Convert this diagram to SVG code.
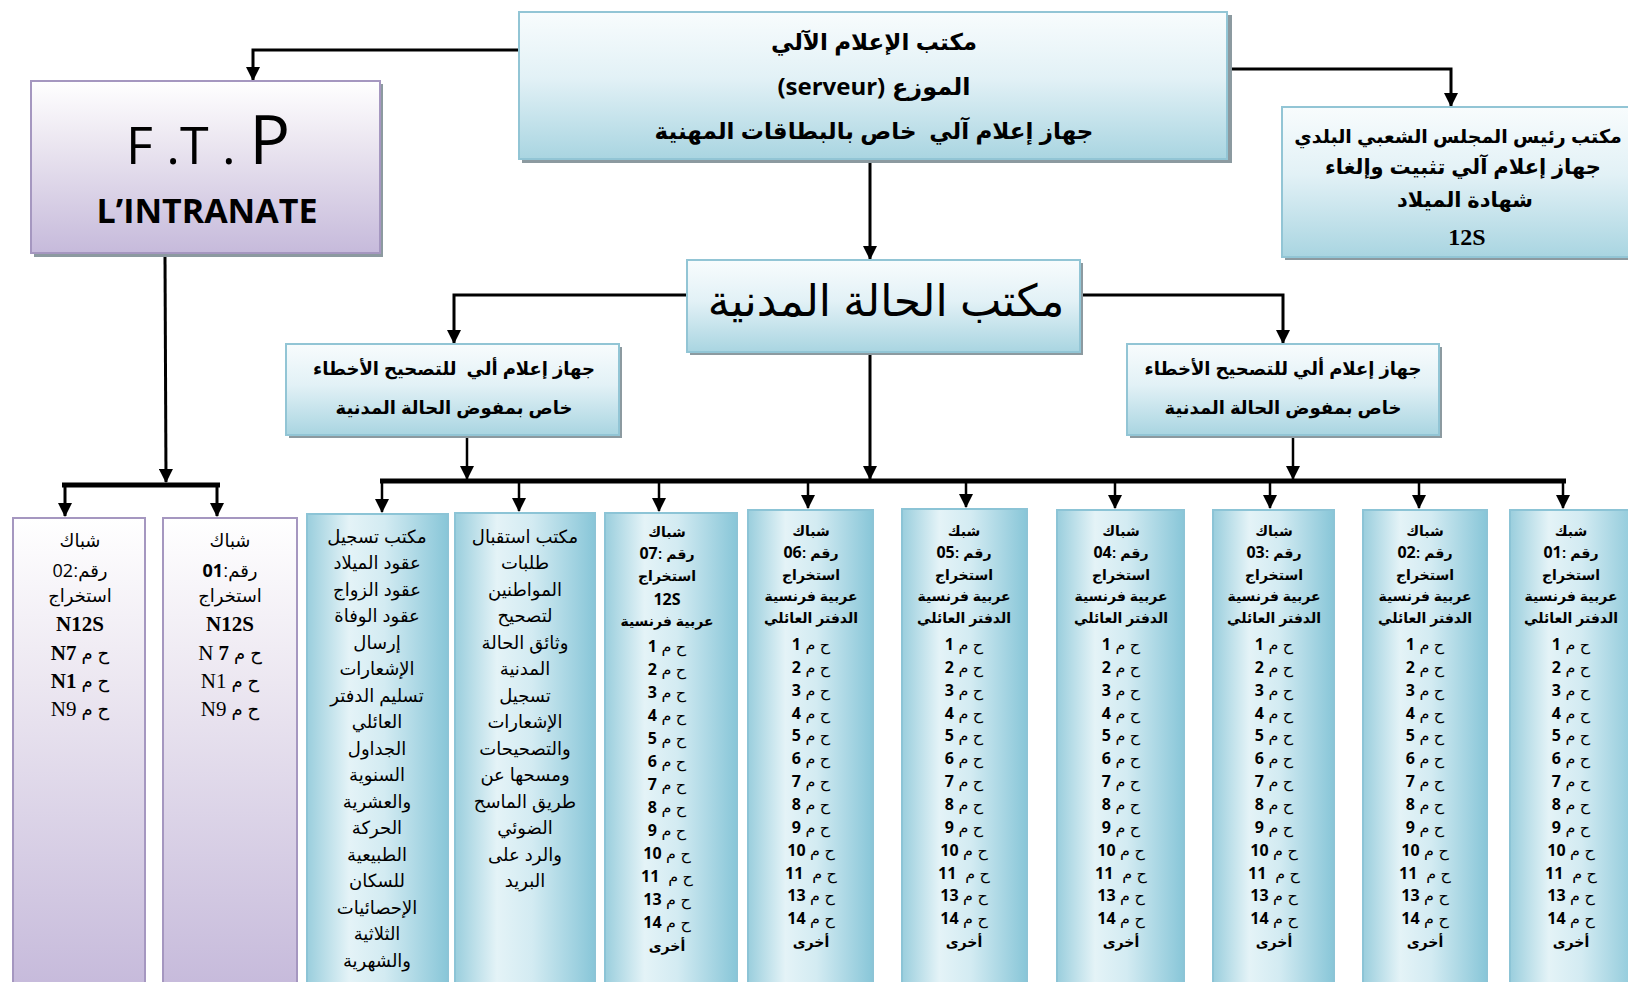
<svg xmlns="http://www.w3.org/2000/svg" width="1628" height="982" viewBox="0 0 1628 982">
<defs>
<linearGradient id="gv" x1="0" y1="0" x2="0" y2="1"><stop offset="0" stop-color="#f8fcfd"/><stop offset="0.45" stop-color="#e2f1f6"/><stop offset="1" stop-color="#a9d5e1"/></linearGradient>
<linearGradient id="gh" x1="0" y1="0" x2="1" y2="0"><stop offset="0" stop-color="#9acedd"/><stop offset="0.3" stop-color="#e4f3f7"/><stop offset="0.55" stop-color="#d3ebf2"/><stop offset="1" stop-color="#88c6d8"/></linearGradient>
<linearGradient id="gp" x1="0" y1="0" x2="0" y2="1"><stop offset="0" stop-color="#ffffff"/><stop offset="0.35" stop-color="#ece7f1"/><stop offset="1" stop-color="#c6badb"/></linearGradient>
<marker id="ah" markerUnits="userSpaceOnUse" markerWidth="14" markerHeight="14" refX="13" refY="7" orient="auto"><path d="M0,0 L14,7 L0,14 z" fill="#000"/></marker>
<style>
.sh{fill:#8c9aa0}
.bb{fill:url(#gv);stroke:#92c5d5;stroke-width:2}
.bh{fill:url(#gh);stroke:#8cc4d6;stroke-width:2}
.bp{fill:url(#gp);stroke:#a597c0;stroke-width:2}
.ar{font-family:"Liberation Sans","DejaVu Sans",sans-serif;fill:#000;text-anchor:middle}
.b{font-weight:bold}
.cal{font-family:"Open Sans","Liberation Sans",sans-serif}
.tms{font-family:"Liberation Serif","DejaVu Serif",serif}
.hd{font-size:14px;font-weight:bold}
.rw{font-size:16px}
.n{font-family:"Open Sans","Liberation Sans",sans-serif;font-weight:bold;font-size:16px}
.tx{font-size:18px}
.fw{font-size:18px}
.ln{stroke:#000;fill:none;stroke-width:3}
.bus{stroke:#000;fill:none;stroke-width:5}
.dr{stroke:#000;fill:none;stroke-width:2.5}
</style>
</defs>

<g id="connectors">
<polyline class="ln" points="518,50 253,50 253,80" marker-end="url(#ah)"/>
<polyline class="ln" points="1230,69 1451,69 1451,106" marker-end="url(#ah)"/>
<line class="ln" x1="870" y1="163" x2="870" y2="259" marker-end="url(#ah)"/>
<polyline class="ln" points="687,295 454,295 454,343" marker-end="url(#ah)"/>
<polyline class="ln" points="1082,295 1283,295 1283,343" marker-end="url(#ah)"/>
<line class="ln" x1="870" y1="355" x2="870" y2="479" marker-end="url(#ah)"/>
<line class="dr" x1="467" y1="438" x2="467" y2="479" marker-end="url(#ah)"/>
<line class="dr" x1="1293" y1="438" x2="1293" y2="479" marker-end="url(#ah)"/>
<line class="bus" x1="380" y1="481" x2="1566" y2="481"/>
<line class="dr" x1="382" y1="481" x2="382" y2="512" marker-end="url(#ah)"/>
<line class="dr" x1="519" y1="481" x2="519" y2="511" marker-end="url(#ah)"/>
<line class="dr" x1="659" y1="481" x2="659" y2="511" marker-end="url(#ah)"/>
<line class="dr" x1="808" y1="481" x2="808" y2="508" marker-end="url(#ah)"/>
<line class="dr" x1="966" y1="481" x2="966" y2="507" marker-end="url(#ah)"/>
<line class="dr" x1="1115" y1="481" x2="1115" y2="508" marker-end="url(#ah)"/>
<line class="dr" x1="1270" y1="481" x2="1270" y2="508" marker-end="url(#ah)"/>
<line class="dr" x1="1419" y1="481" x2="1419" y2="508" marker-end="url(#ah)"/>
<line class="dr" x1="1563" y1="481" x2="1563" y2="508" marker-end="url(#ah)"/>
<line class="ln" x1="165" y1="257" x2="166" y2="482" marker-end="url(#ah)"/>
<line class="bus" x1="62" y1="485" x2="220" y2="485"/>
<line class="ln" x1="65" y1="485" x2="65" y2="516" marker-end="url(#ah)"/>
<line class="ln" x1="217" y1="485" x2="217" y2="516" marker-end="url(#ah)"/>
</g>

<g id="server">
<rect class="sh" x="522" y="15" width="710" height="148"/>
<rect class="bb" x="519" y="12" width="708" height="147"/>
<text class="ar b" x="874" y="50" font-size="23">مكتب الإعلام الآلي</text>
<text class="ar b" x="874" y="95" font-size="24"><tspan class="cal">(serveur)</tspan> الموزع</text>
<text class="ar b" x="874" y="139" font-size="23" xml:space="preserve">جهاز إعلام آلي  خاص بالبطاقات المهنية</text>
</g>

<g id="ftp">
<rect class="sh" x="34" y="84" width="349" height="173"/>
<rect class="bp" x="31" y="81" width="349" height="172"/>
<text class="cal" x="208" y="164" font-size="52" text-anchor="middle">F .T . <tspan font-size="68">P</tspan></text>
<text class="cal b" x="207" y="223" font-size="34" text-anchor="middle">L’INTRANATE</text>
</g>

<g id="apc">
<rect class="sh" x="1285" y="110" width="360" height="150"/>
<rect class="bb" x="1282" y="107" width="360" height="150"/>
<text class="ar b" x="1458" y="143" font-size="19">مكتب رئيس المجلس الشعبي البلدي</text>
<text class="ar b" x="1463" y="174" font-size="21">جهاز إعلام آلي تثبيت وإلغاء</text>
<text class="ar b" x="1465" y="207" font-size="21">شهادة الميلاد</text>
<text class="tms b" x="1467" y="245" font-size="24" text-anchor="middle">12S</text>
</g>

<g id="civil">
<rect class="sh" x="690" y="263" width="393" height="92"/>
<rect class="bb" x="687" y="260" width="393" height="92"/>
<text class="ar" x="886" y="316" font-size="44">مكتب الحالة المدنية</text>
</g>

<g id="corr-left">
<rect class="sh" x="289" y="347" width="333" height="91"/>
<rect class="bb" x="286" y="344" width="333" height="91"/>
<text class="ar b" x="454" y="375" font-size="18" xml:space="preserve">جهاز إعلام ألي  للتصحيح الأخطاء</text>
<text class="ar b" x="454" y="414" font-size="18">خاص بمفوض الحالة المدنية</text>
</g>

<g id="corr-right">
<rect class="sh" x="1130" y="347" width="312" height="91"/>
<rect class="bb" x="1127" y="344" width="312" height="91"/>
<text class="ar b" x="1283" y="375" font-size="18">جهاز إعلام ألي للتصحيح الأخطاء</text>
<text class="ar b" x="1283" y="414" font-size="18">خاص بمفوض الحالة المدنية</text>
</g>

<g id="ftp-w02">
<rect class="bp" x="13" y="518" width="132" height="470"/>
<text class="ar fw" x="80" y="547">شباك</text>
<text class="ar fw" x="80" y="577" direction="rtl">رقم:<tspan class="cal">02</tspan></text>
<text class="ar fw" x="80" y="602">استخراج</text>
<text class="tms b" x="80" y="631" font-size="21" text-anchor="middle">N12S</text>
<text class="ar fw" x="80" y="660" direction="rtl">ح م <tspan class="tms b" font-size="21">N7</tspan></text>
<text class="ar fw" x="80" y="688" direction="rtl">ح م <tspan class="tms b" font-size="21">N1</tspan></text>
<text class="ar fw" x="80" y="716" direction="rtl">ح م <tspan class="tms" font-size="21">N9</tspan></text>
</g>

<g id="ftp-w01">
<rect class="bp" x="163" y="518" width="134" height="470"/>
<text class="ar fw" x="230" y="547">شباك</text>
<text class="ar fw" x="230" y="577" direction="rtl">رقم:<tspan class="cal b">01</tspan></text>
<text class="ar fw" x="230" y="602">استخراج</text>
<text class="tms b" x="230" y="631" font-size="21" text-anchor="middle">N12S</text>
<text class="ar fw" x="230" y="660" direction="rtl">ح م <tspan class="tms" font-size="21">N <tspan class="b">7</tspan></tspan></text>
<text class="ar fw" x="230" y="688" direction="rtl">ح م <tspan class="tms" font-size="21">N1</tspan></text>
<text class="ar fw" x="230" y="716" direction="rtl">ح م <tspan class="tms" font-size="21">N9</tspan></text>
</g>

<g id="office-register">
<rect class="bh" x="307" y="514" width="141" height="474"/>
<text class="ar tx" x="377" y="543">مكتب تسجيل</text>
<text class="ar tx" x="377" y="569">عقود الميلاد</text>
<text class="ar tx" x="377" y="596">عقود الزواج</text>
<text class="ar tx" x="377" y="622">عقود الوفاة</text>
<text class="ar tx" x="377" y="649">إرسال</text>
<text class="ar tx" x="377" y="675">الإشعارات</text>
<text class="ar tx" x="377" y="702">تسليم الدفتر</text>
<text class="ar tx" x="377" y="728">العائلي</text>
<text class="ar tx" x="377" y="755">الجداول</text>
<text class="ar tx" x="377" y="781">السنوية</text>
<text class="ar tx" x="377" y="808">والعشرية</text>
<text class="ar tx" x="377" y="834">الحركة</text>
<text class="ar tx" x="377" y="861">الطبيعية</text>
<text class="ar tx" x="377" y="887">للسكان</text>
<text class="ar tx" x="377" y="914">الإحصائيات</text>
<text class="ar tx" x="377" y="940">الثلاثية</text>
<text class="ar tx" x="377" y="967">والشهرية</text>
</g>

<g id="office-reception">
<rect class="bh" x="455" y="513" width="140" height="475"/>
<text class="ar tx" x="525" y="543">مكتب استقبال</text>
<text class="ar tx" x="525" y="569">طلبات</text>
<text class="ar tx" x="525" y="596">المواطنين</text>
<text class="ar tx" x="525" y="622">لتصحيح</text>
<text class="ar tx" x="525" y="649">وثائق الحالة</text>
<text class="ar tx" x="525" y="675">المدنية</text>
<text class="ar tx" x="525" y="702">تسجيل</text>
<text class="ar tx" x="525" y="728">الإشعارات</text>
<text class="ar tx" x="525" y="755">والتصحيحات</text>
<text class="ar tx" x="525" y="781">ومسحها عن</text>
<text class="ar tx" x="525" y="808">طريق الماسح</text>
<text class="ar tx" x="525" y="834">الضوئي</text>
<text class="ar tx" x="525" y="861">والرد على</text>
<text class="ar tx" x="525" y="887">البريد</text>
</g>

<g id="w07">
<rect class="bh" x="605" y="513" width="132" height="475"/>
<text class="ar hd" x="667" y="537">شباك</text>
<text class="ar hd" x="667" y="559" direction="rtl">رقم :<tspan class="n">07</tspan></text>
<text class="ar hd" x="667" y="581">استخراج</text>
<text class="cal b" x="667" y="605" font-size="16" text-anchor="middle">12S</text>
<text class="ar hd" x="667" y="626">عربية فرنسية</text>
<text class="ar rw" x="667" y="652" direction="rtl">ح م <tspan class="n">1</tspan></text>
<text class="ar rw" x="667" y="675" direction="rtl">ح م <tspan class="n">2</tspan></text>
<text class="ar rw" x="667" y="698" direction="rtl">ح م <tspan class="n">3</tspan></text>
<text class="ar rw" x="667" y="721" direction="rtl">ح م <tspan class="n">4</tspan></text>
<text class="ar rw" x="667" y="744" direction="rtl">ح م <tspan class="n">5</tspan></text>
<text class="ar rw" x="667" y="767" direction="rtl">ح م <tspan class="n">6</tspan></text>
<text class="ar rw" x="667" y="790" direction="rtl">ح م <tspan class="n">7</tspan></text>
<text class="ar rw" x="667" y="813" direction="rtl">ح م <tspan class="n">8</tspan></text>
<text class="ar rw" x="667" y="836" direction="rtl">ح م <tspan class="n">9</tspan></text>
<text class="ar rw" x="667" y="859" direction="rtl">ح م <tspan class="n">10</tspan></text>
<text class="ar rw" x="667" y="882" direction="rtl" xml:space="preserve">ح م  <tspan class="n">11</tspan></text>
<text class="ar rw" x="667" y="905" direction="rtl">ح م <tspan class="n">13</tspan></text>
<text class="ar rw" x="667" y="928" direction="rtl">ح م <tspan class="n">14</tspan></text>
<text class="ar hd" x="667" y="951">أخرى</text>
</g>

<g id="w06">
<rect class="bh" x="748" y="510" width="125" height="478"/>
<text class="ar hd" x="811" y="536">شباك</text>
<text class="ar hd" x="811" y="558" direction="rtl">رقم :<tspan class="n">06</tspan></text>
<text class="ar hd" x="811" y="580">استخراج</text>
<text class="ar hd" x="811" y="601">عربية فرنسية</text>
<text class="ar hd" x="811" y="623">الدفتر العائلي</text>
<text class="ar rw" x="811" y="650" direction="rtl">ح م <tspan class="n">1</tspan></text>
<text class="ar rw" x="811" y="673" direction="rtl">ح م <tspan class="n">2</tspan></text>
<text class="ar rw" x="811" y="696" direction="rtl">ح م <tspan class="n">3</tspan></text>
<text class="ar rw" x="811" y="719" direction="rtl">ح م <tspan class="n">4</tspan></text>
<text class="ar rw" x="811" y="741" direction="rtl">ح م <tspan class="n">5</tspan></text>
<text class="ar rw" x="811" y="764" direction="rtl">ح م <tspan class="n">6</tspan></text>
<text class="ar rw" x="811" y="787" direction="rtl">ح م <tspan class="n">7</tspan></text>
<text class="ar rw" x="811" y="810" direction="rtl">ح م <tspan class="n">8</tspan></text>
<text class="ar rw" x="811" y="833" direction="rtl">ح م <tspan class="n">9</tspan></text>
<text class="ar rw" x="811" y="856" direction="rtl">ح م <tspan class="n">10</tspan></text>
<text class="ar rw" x="811" y="879" direction="rtl" xml:space="preserve">ح م  <tspan class="n">11</tspan></text>
<text class="ar rw" x="811" y="901" direction="rtl">ح م <tspan class="n">13</tspan></text>
<text class="ar rw" x="811" y="924" direction="rtl">ح م <tspan class="n">14</tspan></text>
<text class="ar hd" x="811" y="947">أخرى</text>
</g>

<g id="w05">
<rect class="bh" x="902" y="509" width="125" height="479"/>
<text class="ar hd" x="964" y="536">شبك</text>
<text class="ar hd" x="964" y="558" direction="rtl">رقم :<tspan class="n">05</tspan></text>
<text class="ar hd" x="964" y="580">استخراج</text>
<text class="ar hd" x="964" y="601">عربية فرنسية</text>
<text class="ar hd" x="964" y="623">الدفتر العائلي</text>
<text class="ar rw" x="964" y="650" direction="rtl">ح م <tspan class="n">1</tspan></text>
<text class="ar rw" x="964" y="673" direction="rtl">ح م <tspan class="n">2</tspan></text>
<text class="ar rw" x="964" y="696" direction="rtl">ح م <tspan class="n">3</tspan></text>
<text class="ar rw" x="964" y="719" direction="rtl">ح م <tspan class="n">4</tspan></text>
<text class="ar rw" x="964" y="741" direction="rtl">ح م <tspan class="n">5</tspan></text>
<text class="ar rw" x="964" y="764" direction="rtl">ح م <tspan class="n">6</tspan></text>
<text class="ar rw" x="964" y="787" direction="rtl">ح م <tspan class="n">7</tspan></text>
<text class="ar rw" x="964" y="810" direction="rtl">ح م <tspan class="n">8</tspan></text>
<text class="ar rw" x="964" y="833" direction="rtl">ح م <tspan class="n">9</tspan></text>
<text class="ar rw" x="964" y="856" direction="rtl">ح م <tspan class="n">10</tspan></text>
<text class="ar rw" x="964" y="879" direction="rtl" xml:space="preserve">ح م  <tspan class="n">11</tspan></text>
<text class="ar rw" x="964" y="901" direction="rtl">ح م <tspan class="n">13</tspan></text>
<text class="ar rw" x="964" y="924" direction="rtl">ح م <tspan class="n">14</tspan></text>
<text class="ar hd" x="964" y="947">أخرى</text>
</g>

<g id="w04">
<rect class="bh" x="1057" y="510" width="127" height="478"/>
<text class="ar hd" x="1121" y="536">شباك</text>
<text class="ar hd" x="1121" y="558" direction="rtl">رقم :<tspan class="n">04</tspan></text>
<text class="ar hd" x="1121" y="580">استخراج</text>
<text class="ar hd" x="1121" y="601">عربية فرنسية</text>
<text class="ar hd" x="1121" y="623">الدفتر العائلي</text>
<text class="ar rw" x="1121" y="650" direction="rtl">ح م <tspan class="n">1</tspan></text>
<text class="ar rw" x="1121" y="673" direction="rtl">ح م <tspan class="n">2</tspan></text>
<text class="ar rw" x="1121" y="696" direction="rtl">ح م <tspan class="n">3</tspan></text>
<text class="ar rw" x="1121" y="719" direction="rtl">ح م <tspan class="n">4</tspan></text>
<text class="ar rw" x="1121" y="741" direction="rtl">ح م <tspan class="n">5</tspan></text>
<text class="ar rw" x="1121" y="764" direction="rtl">ح م <tspan class="n">6</tspan></text>
<text class="ar rw" x="1121" y="787" direction="rtl">ح م <tspan class="n">7</tspan></text>
<text class="ar rw" x="1121" y="810" direction="rtl">ح م <tspan class="n">8</tspan></text>
<text class="ar rw" x="1121" y="833" direction="rtl">ح م <tspan class="n">9</tspan></text>
<text class="ar rw" x="1121" y="856" direction="rtl">ح م <tspan class="n">10</tspan></text>
<text class="ar rw" x="1121" y="879" direction="rtl" xml:space="preserve">ح م  <tspan class="n">11</tspan></text>
<text class="ar rw" x="1121" y="901" direction="rtl">ح م <tspan class="n">13</tspan></text>
<text class="ar rw" x="1121" y="924" direction="rtl">ح م <tspan class="n">14</tspan></text>
<text class="ar hd" x="1121" y="947">أخرى</text>
</g>

<g id="w03">
<rect class="bh" x="1213" y="510" width="121" height="478"/>
<text class="ar hd" x="1274" y="536">شباك</text>
<text class="ar hd" x="1274" y="558" direction="rtl">رقم :<tspan class="n">03</tspan></text>
<text class="ar hd" x="1274" y="580">استخراج</text>
<text class="ar hd" x="1274" y="601">عربية فرنسية</text>
<text class="ar hd" x="1274" y="623">الدفتر العائلي</text>
<text class="ar rw" x="1274" y="650" direction="rtl">ح م <tspan class="n">1</tspan></text>
<text class="ar rw" x="1274" y="673" direction="rtl">ح م <tspan class="n">2</tspan></text>
<text class="ar rw" x="1274" y="696" direction="rtl">ح م <tspan class="n">3</tspan></text>
<text class="ar rw" x="1274" y="719" direction="rtl">ح م <tspan class="n">4</tspan></text>
<text class="ar rw" x="1274" y="741" direction="rtl">ح م <tspan class="n">5</tspan></text>
<text class="ar rw" x="1274" y="764" direction="rtl">ح م <tspan class="n">6</tspan></text>
<text class="ar rw" x="1274" y="787" direction="rtl">ح م <tspan class="n">7</tspan></text>
<text class="ar rw" x="1274" y="810" direction="rtl">ح م <tspan class="n">8</tspan></text>
<text class="ar rw" x="1274" y="833" direction="rtl">ح م <tspan class="n">9</tspan></text>
<text class="ar rw" x="1274" y="856" direction="rtl">ح م <tspan class="n">10</tspan></text>
<text class="ar rw" x="1274" y="879" direction="rtl" xml:space="preserve">ح م  <tspan class="n">11</tspan></text>
<text class="ar rw" x="1274" y="901" direction="rtl">ح م <tspan class="n">13</tspan></text>
<text class="ar rw" x="1274" y="924" direction="rtl">ح م <tspan class="n">14</tspan></text>
<text class="ar hd" x="1274" y="947">أخرى</text>
</g>

<g id="w02">
<rect class="bh" x="1363" y="510" width="124" height="478"/>
<text class="ar hd" x="1425" y="536">شباك</text>
<text class="ar hd" x="1425" y="558" direction="rtl">رقم :<tspan class="n">02</tspan></text>
<text class="ar hd" x="1425" y="580">استخراج</text>
<text class="ar hd" x="1425" y="601">عربية فرنسية</text>
<text class="ar hd" x="1425" y="623">الدفتر العائلي</text>
<text class="ar rw" x="1425" y="650" direction="rtl">ح م <tspan class="n">1</tspan></text>
<text class="ar rw" x="1425" y="673" direction="rtl">ح م <tspan class="n">2</tspan></text>
<text class="ar rw" x="1425" y="696" direction="rtl">ح م <tspan class="n">3</tspan></text>
<text class="ar rw" x="1425" y="719" direction="rtl">ح م <tspan class="n">4</tspan></text>
<text class="ar rw" x="1425" y="741" direction="rtl">ح م <tspan class="n">5</tspan></text>
<text class="ar rw" x="1425" y="764" direction="rtl">ح م <tspan class="n">6</tspan></text>
<text class="ar rw" x="1425" y="787" direction="rtl">ح م <tspan class="n">7</tspan></text>
<text class="ar rw" x="1425" y="810" direction="rtl">ح م <tspan class="n">8</tspan></text>
<text class="ar rw" x="1425" y="833" direction="rtl">ح م <tspan class="n">9</tspan></text>
<text class="ar rw" x="1425" y="856" direction="rtl">ح م <tspan class="n">10</tspan></text>
<text class="ar rw" x="1425" y="879" direction="rtl" xml:space="preserve">ح م  <tspan class="n">11</tspan></text>
<text class="ar rw" x="1425" y="901" direction="rtl">ح م <tspan class="n">13</tspan></text>
<text class="ar rw" x="1425" y="924" direction="rtl">ح م <tspan class="n">14</tspan></text>
<text class="ar hd" x="1425" y="947">أخرى</text>
</g>

<g id="w01">
<rect class="bh" x="1510" y="510" width="130" height="478"/>
<text class="ar hd" x="1571" y="536">شبك</text>
<text class="ar hd" x="1571" y="558" direction="rtl">رقم :<tspan class="n">01</tspan></text>
<text class="ar hd" x="1571" y="580">استخراج</text>
<text class="ar hd" x="1571" y="601">عربية فرنسية</text>
<text class="ar hd" x="1571" y="623">الدفتر العائلي</text>
<text class="ar rw" x="1571" y="650" direction="rtl">ح م <tspan class="n">1</tspan></text>
<text class="ar rw" x="1571" y="673" direction="rtl">ح م <tspan class="n">2</tspan></text>
<text class="ar rw" x="1571" y="696" direction="rtl">ح م <tspan class="n">3</tspan></text>
<text class="ar rw" x="1571" y="719" direction="rtl">ح م <tspan class="n">4</tspan></text>
<text class="ar rw" x="1571" y="741" direction="rtl">ح م <tspan class="n">5</tspan></text>
<text class="ar rw" x="1571" y="764" direction="rtl">ح م <tspan class="n">6</tspan></text>
<text class="ar rw" x="1571" y="787" direction="rtl">ح م <tspan class="n">7</tspan></text>
<text class="ar rw" x="1571" y="810" direction="rtl">ح م <tspan class="n">8</tspan></text>
<text class="ar rw" x="1571" y="833" direction="rtl">ح م <tspan class="n">9</tspan></text>
<text class="ar rw" x="1571" y="856" direction="rtl">ح م <tspan class="n">10</tspan></text>
<text class="ar rw" x="1571" y="879" direction="rtl" xml:space="preserve">ح م  <tspan class="n">11</tspan></text>
<text class="ar rw" x="1571" y="901" direction="rtl">ح م <tspan class="n">13</tspan></text>
<text class="ar rw" x="1571" y="924" direction="rtl">ح م <tspan class="n">14</tspan></text>
<text class="ar hd" x="1571" y="947">أخرى</text>
</g>
</svg>
